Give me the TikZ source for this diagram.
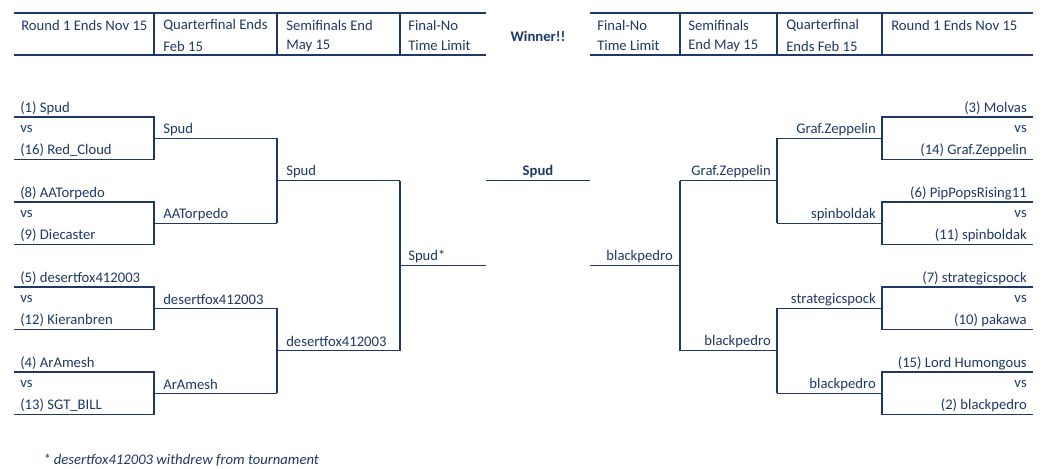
\documentclass[tikz,border=0pt]{standalone}
\usepackage{fontspec}
\setmainfont{Carlito}
\definecolor{bracketblue}{RGB}{31,56,100}
\tikzset{entry/.style={inner sep=0pt, yshift=-1.5pt, text=bracketblue, font=\fontsize{11}{13}\selectfont}}
\tikzset{lft/.style={entry, anchor=west}}
\tikzset{rgt/.style={entry, anchor=east}}
\tikzset{bline/.style={draw=bracketblue, line width=0.9pt}}

\begin{document}
\begin{tikzpicture}[x=0.75pt, y=-0.75pt]
        \useasboundingbox (0,0) rectangle (1046,468);
        % header
        \draw[bline] (14,13) -- (486,13) (14,55) -- (486,55);
        \draw[bline] (590,13) -- (1033,13) (590,55) -- (1033,55);
        \foreach \x in {154,277,400,680,777,882}
            \draw[bline] (\x,13) -- (\x,55);
        \node[lft] (h1) at (21,23) {Round 1 Ends Nov 15};
        \node[lft] (h2) at (163,23) {Quarterfinal Ends};
        \node[lft] (h2b) at (163,44) {Feb 15};
        \node[lft] (h3) at (286,23) {Semifinals End};
        \node[lft] (h3b) at (286,44) {May 15};
        \node[lft] (h4) at (408,23) {Final-No};
        \node[lft] (h4b) at (408,44) {Time Limit};
        \node[entry, font=\fontsize{11}{13}\selectfont\bfseries] (win) at (538,34) {Winner!!};
        \node[lft] (k4) at (597,23) {Final-No};
        \node[lft] (k4b) at (597,44) {Time Limit};
        \node[lft] (k3) at (688,23) {Semifinals};
        \node[lft] (k3b) at (688,44) {End May 15};
        \node[lft] (k2) at (786,23) {Quarterfinal};
        \node[lft] (k2b) at (786,44) {Ends Feb 15};
        \node[lft] (k1) at (891,23) {Round 1 Ends Nov 15};

        % left half
        \foreach \m/\a/\b/\w in {0/(1) Spud/(16) Red\_Cloud/Spud,
                                 1/(8) AATorpedo/(9) Diecaster/AATorpedo,
                                 2/(5) desertfox412003/(12) Kieranbren/desertfox412003,
                                 3/(4) ArAmesh/(13) SGT\_BILL/ArAmesh} {
            \node[lft] (la\m) at (20,{106+85*\m}) {\a};
            \node[lft] (lv\m) at (20,{127.25+85*\m}) {vs};
            \node[lft] (lb\m) at (20,{148.5+85*\m}) {\b};
            \node[lft] (lq\m) at (163,{127.25+85*\m}) {\w};
            \draw[bline] (14,{117+85*\m}) -- (154,{117+85*\m}) -- (154,{159.5+85*\m}) -- (14,{159.5+85*\m});
            \draw[bline] (154,{138.25+85*\m}) -- (277,{138.25+85*\m});
        }
        \foreach \p/\w in {0/Spud, 1/desertfox412003} {
            \node[lft] (ls\p) at (286,{169.75+170*\p}) {\w};
            \draw[bline] (277,{138.25+170*\p}) -- (277,{223.25+170*\p});
            \draw[bline] (277,{180.75+170*\p}) -- (400,{180.75+170*\p});
        }
        \draw[bline] (400,180.75) -- (400,350.75);
        \draw[bline] (400,265.75) -- (486,265.75);
        \node[lft] (lf) at (408,254.75) {Spud*};

        % winner
        \draw[bline] (486,180.75) -- (590,180.75);
        \node[entry, font=\fontsize{11}{13}\selectfont\bfseries] (champ) at (538,169.75) {Spud};

        % right half
        \foreach \m/\a/\b/\w in {0/(3) Molvas/(14) Graf.Zeppelin/Graf.Zeppelin,
                                 1/(6) PipPopsRising11/(11) spinboldak/spinboldak,
                                 2/(7) strategicspock/(10) pakawa/strategicspock,
                                 3/(15) Lord Humongous/(2) blackpedro/blackpedro} {
            \node[rgt] (ra\m) at (1027,{106+85*\m}) {\a};
            \node[rgt] (rv\m) at (1027,{127.25+85*\m}) {vs};
            \node[rgt] (rb\m) at (1027,{148.5+85*\m}) {\b};
            \node[rgt] (rq\m) at (876,{127.25+85*\m}) {\w};
            \draw[bline] (1033,{117+85*\m}) -- (882,{117+85*\m}) -- (882,{159.5+85*\m}) -- (1033,{159.5+85*\m});
            \draw[bline] (882,{138.25+85*\m}) -- (777,{138.25+85*\m});
        }
        \foreach \p/\w in {0/Graf.Zeppelin, 1/blackpedro} {
            \node[rgt] (rs\p) at (771,{169.75+170*\p}) {\w};
            \draw[bline] (777,{138.25+170*\p}) -- (777,{223.25+170*\p});
            \draw[bline] (777,{180.75+170*\p}) -- (680,{180.75+170*\p});
        }
        \draw[bline] (680,180.75) -- (680,350.75);
        \draw[bline] (680,265.75) -- (590,265.75);
        \node[rgt] (rf) at (673,254.75) {blackpedro};

        \node[lft, font=\fontsize{11}{13}\selectfont\itshape] (note) at (43,458) {* desertfox412003 withdrew from tournament};
\end{tikzpicture}
\end{document}
